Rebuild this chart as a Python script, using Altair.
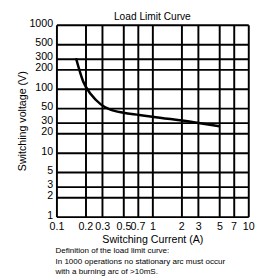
import altair as alt
import pandas as pd

# Data
current = [0.16, 0.19, 0.23, 0.29, 0.36, 0.5, 0.73, 1.0, 2.7, 5.0]
voltage = [300, 130, 81, 57, 47.5, 42, 39, 36.5, 30, 26]

x_ticks = [0.1, 0.2, 0.3, 0.5, 0.7, 1, 2, 3, 5, 7, 10]
y_ticks = [1, 2, 3, 5, 10, 20, 30, 50, 100, 200, 300, 500, 1000]

title_text = "Load Limit Curve"
note_lines = [
    "Definition of the load limit curve:",
    "In 1000 operations no stationary arc must occur",
    "with a burning arc of >10mS.",
]

FONT = "Liberation Sans"

df = pd.DataFrame({"current": current, "voltage": voltage})

xscale = alt.Scale(type="log", domain=[0.1, 10], nice=False)
yscale = alt.Scale(type="log", domain=[1, 1000], nice=False)

xaxis = alt.Axis(
    values=x_ticks, title="Switching Current (A)", grid=True, gridColor="black",
    gridWidth=2, gridOpacity=1, ticks=False, domain=False, labelFont=FONT,
    labelFontSize=11, labelColor="black", labelPadding=4, titleFont=FONT,
    titleFontSize=11, titleFontWeight="normal", titleColor="black", titlePadding=3,
    labelFlush=False, labelOverlap=False,
    labelExpr="datum.value < 1 ? format(datum.value, '.1f') : format(datum.value, 'd')",
)
yaxis = alt.Axis(
    values=y_ticks, title="Switching voltage (V)", grid=True, gridColor="black",
    gridWidth=2, gridOpacity=1, ticks=False, domain=False, labelFont=FONT,
    labelFontSize=11, labelColor="black", labelPadding=4, labelOffset=-1.5,
    titleFont=FONT, titleFontSize=11, titleFontWeight="normal", titleColor="black",
    titlePadding=1, labelFlush=False, labelOverlap=False, format="d",
)

line = alt.Chart(df).mark_line(color="black", strokeWidth=2.6, interpolate="monotone").encode(
    x=alt.X("current:Q", scale=xscale, axis=xaxis),
    y=alt.Y("voltage:Q", scale=yscale, axis=yaxis),
)

title = alt.Chart(pd.DataFrame({"t": [title_text]})).mark_text(
    font=FONT, fontSize=10.5, color="black", align="center", baseline="middle"
).encode(x=alt.value(99), y=alt.value(-8), text="t:N")

notes = alt.Chart(pd.DataFrame({"t": note_lines, "yy": [234, 245, 255.5]})).mark_text(
    font=FONT, fontSize=8.3, color="black", align="left", baseline="middle"
).encode(x=alt.value(-1), y=alt.Y("yy:Q", scale=None), text="t:N")

chart = alt.layer(line, title, notes).properties(
    width=198, height=198,
    autosize=alt.AutoSizeParams(type="none"),
    padding={"left": 50, "top": 13, "right": 9, "bottom": 60},
).configure_view(stroke="black", strokeWidth=2).configure(background="white")

chart.save("out.html", embed_options={"renderer": "svg", "actions": False})
